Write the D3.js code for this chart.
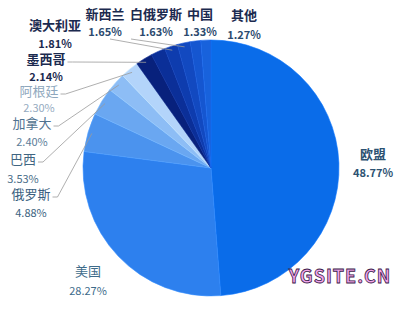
<!DOCTYPE html>
<html><head><meta charset="utf-8">
<script src="https://cdn.jsdelivr.net/npm/d3@7"></script>
<style>
html,body{margin:0;padding:0;background:#fff;}
svg{display:block;}
text{font-family:"Noto Sans CJK SC","Noto Sans",sans-serif;}
</style></head>
<body>
<svg id="chart" width="400" height="309"></svg>
<script>
const categories = ["欧盟","美国","俄罗斯","巴西","加拿大","阿根廷","墨西哥","澳大利亚","新西兰","白俄罗斯","中国","其他"];
const values = [48.77,28.27,4.88,3.53,2.40,2.30,2.14,1.81,1.65,1.63,1.33,1.27];
const valueLabels = ["48.77%","28.27%","4.88%","3.53%","2.40%","2.30%","2.14%","1.81%","1.65%","1.63%","1.33%","1.27%"];
const palette = ["#0a6ce9","#2d80ee","#4b93ee","#6aa7f1","#8dbdf5","#b3d4fa","#08217c","#0b2f98","#0e3cae","#1249c0","#1556d0","#1862dc"];

// label layout: [centerX, nameBaseline, pctBaseline, nameColor, pctColor, bold, leader]
const labelLayout = {
  "欧盟":[373,159,177,"#2c5272","#2c5272",true,false],
  "美国":[88,276,295,"#3d6b8a","#3d6b8a",false,false],
  "俄罗斯":[31,199,217,"#3a5f80","#3a5f80",false,true],
  "巴西":[23,164,183,"#3f6581","#4a6d88",false,true],
  "加拿大":[32,128,146,"#4f7290","#5c7d98",false,true],
  "阿根廷":[39,96,112,"#8ea7bd","#95abbf",false,true],
  "墨西哥":[46,64,81,"#1b2a4f","#1b2a4f",true,true],
  "澳大利亚":[55,30,48,"#1b2a4f","#1b2a4f",true,false],
  "新西兰":[105,19,36,"#1b2a4f","#2b4a6e",true,true],
  "白俄罗斯":[156,19,36,"#1b2a4f","#2b4a6e",true,true],
  "中国":[200,19,36,"#1b2a4f","#2b4a6e",true,false],
  "其他":[244,20,39,"#1b2a4f","#2b4a6e",true,false]
};

const svg = d3.select("#chart");
const cx = 211, cy = 168, R = 128;
const data = categories.map((c,i)=>({name:c,value:values[i],label:valueLabels[i],color:palette[i]}));
const pie = d3.pie().value(d=>d.value).sort(null);
const arcs = pie(data);
const arc = d3.arc().innerRadius(0).outerRadius(R);
const g = svg.append("g").attr("transform",`translate(${cx},${cy})`);
g.selectAll("path").data(arcs).join("path")
  .attr("d",arc).attr("fill",d=>d.data.color)
  .attr("stroke",d=>d3.color(d.data.color).brighter(0.25)).attr("stroke-width",0.6);

// leader lines
const edgeArc = d3.arc().innerRadius(R-4).outerRadius(R-4);
arcs.forEach(a=>{
  const L = labelLayout[a.data.name];
  if(!L[6]) return;
  const [ex,ey] = edgeArc.centroid(a);
  const px = cx+ex, py = cy+ey;
  let pts;
  const nm = a.data.name;
  if(nm==="新西兰"||nm==="白俄罗斯"){
    const sx = L[0]+(nm==="新西兰"?5:-25), sy = L[2]+3;
    pts = [[sx,sy],[px,py]];
  } else {
    const w = nm.length*13;
    const sx = L[0]+w/2+2, sy = L[1]-2;
    pts = [[sx,sy],[sx+5,sy],[px,py]];
  }
  svg.append("polyline").attr("points",pts.map(p=>p.join(",")).join(" "))
    .attr("fill","none").attr("stroke","#9a9a9a").attr("stroke-width",0.8);
});

// labels
arcs.forEach(a=>{
  const L = labelLayout[a.data.name];
  svg.append("text").attr("x",L[0]).attr("y",L[1]).attr("text-anchor","middle")
    .attr("font-size",13).attr("font-weight",L[5]?"bold":"normal").attr("fill",L[3]).text(a.data.name);
  svg.append("text").attr("x",L[0]).attr("y",L[2]).attr("text-anchor","middle")
    .attr("font-size",11).attr("font-weight",L[5]?"bold":"normal").attr("fill",L[4])
    .attr("font-family","'Open Sans','Noto Sans',sans-serif").text(a.data.label);
});

// watermark
svg.append("text").attr("x",340).attr("y",283).attr("text-anchor","middle")
  .attr("font-family","'DejaVu Serif','Liberation Serif',serif").attr("font-weight","bold")
  .attr("font-size",18).attr("fill","#f3a6ea").attr("stroke","#3a1a4a").attr("stroke-width",0.8)
  .attr("letter-spacing",1).text("YGSITE.CN");
</script>
</body></html>
